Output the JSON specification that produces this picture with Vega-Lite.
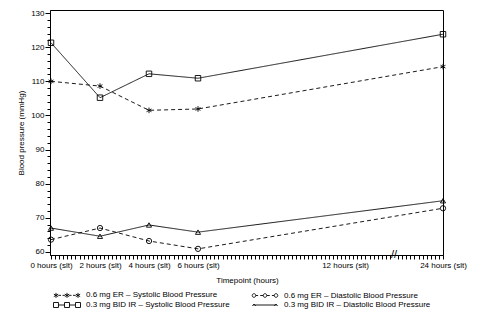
{
  "$schema": "https://vega.github.io/schema/vega-lite/v6.json",
  "width": 393,
  "height": 245,
  "autosize": "none",
  "padding": {"left": 50, "top": 10, "right": 38, "bottom": 67},
  "background": "white",
  "config": {
    "font": "Liberation Sans",
    "view": {"stroke": "black", "strokeWidth": 1},
    "axis": {
      "labelFont": "Liberation Sans", "labelFontSize": 8, "labelColor": "black",
      "titleFont": "Liberation Sans", "titleFontSize": 8, "titleFontWeight": "normal", "titleColor": "black",
      "tickColor": "black", "domainColor": "black", "grid": false
    },
    "legend": {"labelFont": "Liberation Sans", "labelFontSize": 8, "labelColor": "black"}
  },
  "data": {
    "values": [
      {"series": "0.3 mg BID IR – Systolic Blood Pressure", "hour": 0, "bp": 121.3},
      {"series": "0.3 mg BID IR – Systolic Blood Pressure", "hour": 2, "bp": 105.2},
      {"series": "0.3 mg BID IR – Systolic Blood Pressure", "hour": 4, "bp": 112.2},
      {"series": "0.3 mg BID IR – Systolic Blood Pressure", "hour": 6, "bp": 110.9},
      {"series": "0.3 mg BID IR – Systolic Blood Pressure", "hour": 24, "bp": 123.8},
      {"series": "0.6 mg ER – Systolic Blood Pressure", "hour": 0, "bp": 110.0},
      {"series": "0.6 mg ER – Systolic Blood Pressure", "hour": 2, "bp": 108.6},
      {"series": "0.6 mg ER – Systolic Blood Pressure", "hour": 4, "bp": 101.5},
      {"series": "0.6 mg ER – Systolic Blood Pressure", "hour": 6, "bp": 101.9},
      {"series": "0.6 mg ER – Systolic Blood Pressure", "hour": 24, "bp": 114.3},
      {"series": "0.6 mg ER – Diastolic Blood Pressure", "hour": 0, "bp": 63.6},
      {"series": "0.6 mg ER – Diastolic Blood Pressure", "hour": 2, "bp": 67.0},
      {"series": "0.6 mg ER – Diastolic Blood Pressure", "hour": 4, "bp": 63.2},
      {"series": "0.6 mg ER – Diastolic Blood Pressure", "hour": 6, "bp": 60.9},
      {"series": "0.6 mg ER – Diastolic Blood Pressure", "hour": 24, "bp": 72.8},
      {"series": "0.3 mg BID IR – Diastolic Blood Pressure", "hour": 0, "bp": 67.0},
      {"series": "0.3 mg BID IR – Diastolic Blood Pressure", "hour": 2, "bp": 64.6},
      {"series": "0.3 mg BID IR – Diastolic Blood Pressure", "hour": 4, "bp": 67.9},
      {"series": "0.3 mg BID IR – Diastolic Blood Pressure", "hour": 6, "bp": 65.8},
      {"series": "0.3 mg BID IR – Diastolic Blood Pressure", "hour": 24, "bp": 75.0}
    ]
  },
  "resolve": {
    "scale": {"shape": "independent"},
    "legend": {"shape": "independent"},
    "axis": {"x": "independent", "y": "independent"}
  },
  "layer": [
    {
      "mark": {"type": "line", "color": "black", "strokeWidth": 0.9},
      "encoding": {
        "x": {
          "field": "hour", "type": "quantitative",
          "scale": {"domain": [0, 14, 22, 24], "range": [1, 344, 344, 393], "nice": false, "zero": false},
          "axis": {
            "orient": "bottom",
            "title": "Timepoint (hours)", "titlePadding": 7,
            "values": [0,0.167,0.333,0.5,0.667,0.833,1,1.167,1.333,1.5,1.667,1.833,2,2.167,2.333,2.5,2.667,2.833,3,3.167,3.333,3.5,3.667,3.833,4,4.167,4.333,4.5,4.667,4.833,5,5.167,5.333,5.5,5.667,5.833,6,6.167,6.333,6.5,6.667,6.833,7,7.167,7.333,7.5,7.667,7.833,8,8.167,8.333,8.5,8.667,8.833,9,9.167,9.333,9.5,9.667,9.833,10,10.167,10.333,10.5,10.667,10.833,11,11.167,11.333,11.5,11.667,11.833,12,12.167,12.333,12.5,12.667,12.833,13,13.167,13.333,13.5,13.667,13.833,22.167,22.333,22.5,22.667,22.833,23,23.167,23.333,23.5,23.667,23.833,24],
            "labelExpr": "indexof([0,2,4,6,12,24], datum.value) >= 0 ? datum.value + ' hours (slt)' : ''",
            "labelOverlap": false, "labelFlush": false, "tickSize": 4, "labelPadding": 2
          }
        },
        "y": {
          "field": "bp", "type": "quantitative",
          "scale": {"domain": [59.1, 130.9], "nice": false, "zero": false},
          "axis": {
            "orient": "left", "title": "Blood pressure (mmHg)", "titlePadding": 5,
            "values": [60, 70, 80, 90, 100, 110, 120, 130], "tickSize": 5, "labelPadding": 1
          }
        },
        "detail": {"field": "series"},
        "strokeDash": {
          "field": "series",
          "scale": {
            "domain": ["0.6 mg ER – Systolic Blood Pressure", "0.3 mg BID IR – Systolic Blood Pressure", "0.6 mg ER – Diastolic Blood Pressure", "0.3 mg BID IR – Diastolic Blood Pressure"],
            "range": [[4, 3], [1, 0], [4, 3], [1, 0]]
          },
          "legend": null
        }
      }
    },
    {
      "mark": {"type": "point", "filled": false, "color": "black", "strokeWidth": 0.9, "opacity": 1},
      "encoding": {
        "x": {"field": "hour", "type": "quantitative", "axis": null},
        "y": {
          "field": "bp", "type": "quantitative",
          "axis": {
            "orient": "left", "title": null, "labels": false, "domain": false, "tickSize": 3,
            "values": [60,62,64,66,68,70,72,74,76,78,80,82,84,86,88,90,92,94,96,98,100,102,104,106,108,110,112,114,116,118,120,122,124,126,128,130]
          }
        },
        "shape": {
          "field": "series",
          "scale": {
            "domain": ["0.6 mg ER – Systolic Blood Pressure", "0.3 mg BID IR – Systolic Blood Pressure", "0.6 mg ER – Diastolic Blood Pressure", "0.3 mg BID IR – Diastolic Blood Pressure"],
            "range": ["M0,-1V1M-0.87,-0.5L0.87,0.5M-0.87,0.5L0.87,-0.5", "square", "circle", "triangle-up"]
          },
          "legend": null
        },
        "size": {
          "field": "series",
          "scale": {
            "domain": ["0.6 mg ER – Systolic Blood Pressure", "0.3 mg BID IR – Systolic Blood Pressure", "0.6 mg ER – Diastolic Blood Pressure", "0.3 mg BID IR – Diastolic Blood Pressure"],
            "range": [32, 26, 10, 8]
          },
          "legend": null
        }
      }
    },
    {
      "mark": {"type": "point", "filled": false, "color": "black", "strokeWidth": 0.9, "opacity": 0},
      "encoding": {
        "x": {"field": "hour", "type": "quantitative", "axis": null},
        "y": {"field": "bp", "type": "quantitative", "axis": null},
        "shape": {
          "field": "series",
          "scale": {
            "domain": ["0.6 mg ER – Systolic Blood Pressure", "0.3 mg BID IR – Systolic Blood Pressure", "0.6 mg ER – Diastolic Blood Pressure", "0.3 mg BID IR – Diastolic Blood Pressure"],
            "range": [
              "M-3.67,-0.83V0.83M-4.39,-0.42L-2.95,0.42M-4.39,0.42L-2.95,-0.42M0,-0.83V0.83M-0.72,-0.42L0.72,0.42M-0.72,0.42L0.72,-0.42M3.67,-0.83V0.83M2.95,-0.42L4.39,0.42M2.95,0.42L4.39,-0.42M-2.9,0H-2M-1.5,0H-0.7M0.7,0H1.5M2,0H2.9",
              "M-4.5,-0.83H-2.84V0.83H-4.5ZM-0.83,-0.83H0.83V0.83H-0.83ZM2.84,-0.83H4.5V0.83H2.84ZM-2.84,0H-0.83M0.83,0H2.84",
              "M-3.07,0A0.6,0.6 0 1,1 -4.27,0A0.6,0.6 0 1,1 -3.07,0ZM0.6,0A0.6,0.6 0 1,1 -0.6,0A0.6,0.6 0 1,1 0.6,0ZM4.27,0A0.6,0.6 0 1,1 3.07,0A0.6,0.6 0 1,1 4.27,0ZM-3.07,0H-2.3M-1.6,0H-0.6M0.6,0H1.6M2.3,0H3.07",
              "M-3.9,0H3.9M-4.2,0.3L-3.67,-0.3L-3.1,0.3M3.1,0.3L3.67,-0.3L4.2,0.3"
            ]
          },
          "legend": {
            "orient": "none", "legendX": 13, "legendY": 281, "columns": 2, "title": null,
            "symbolSize": 36, "symbolStrokeWidth": 0.9, "symbolStrokeColor": "black",
            "symbolFillColor": "transparent", "symbolOpacity": 1,
            "labelOffset": 15, "rowPadding": 0, "columnPadding": 20, "padding": 0
          }
        }
      }
    },
    {
      "data": {"values": [{}]},
      "mark": {"type": "text", "text": "//", "fontSize": 11, "align": "center", "baseline": "middle", "font": "Liberation Sans"},
      "encoding": {
        "x": {"datum": 14, "type": "quantitative", "axis": null},
        "y": {"datum": 59.1, "type": "quantitative", "axis": null}
      }
    }
  ]
}
